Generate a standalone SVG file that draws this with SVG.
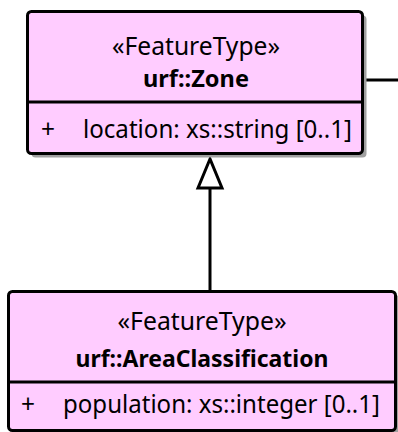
<svg xmlns="http://www.w3.org/2000/svg" width="398" height="432" viewBox="0 0 398 432">
<style>
.box{fill:#FFCCFF;stroke:#000;stroke-width:3}
.shadow{fill:#A0A0A0}
.div{stroke:#000;stroke-width:3}
.conn{stroke:#000;stroke-width:3;fill:none}
text{font-family:"Noto Sans","Open Sans",sans-serif;font-size:24.5px;fill:#000}
.c{text-anchor:middle}
.b{font-weight:bold;font-size:23px}
</style>
<rect width="398" height="432" fill="#fff"/>
<g id="connectors">
<line class="conn" x1="364" y1="80" x2="398" y2="80"/>
<line class="conn" x1="210" y1="188" x2="210" y2="291"/>
<polygon class="conn" points="210,159 198,188 222,188" fill="#fff" stroke-linejoin="miter"/>
</g>
<g id="zone">
<rect class="shadow" x="31.5" y="15.5" width="335" height="142" rx="4"/>
<rect class="box" x="27.5" y="11.5" width="335" height="142" rx="4"/>
<line class="div" x1="27.5" y1="102" x2="362.5" y2="102"/>
<text class="c" x="196" y="55" textLength="168" lengthAdjust="spacingAndGlyphs">«FeatureType»</text>
<text class="c b" x="196" y="87" textLength="106" lengthAdjust="spacingAndGlyphs">urf::Zone</text>
<text x="41" y="138">+</text>
<text x="83" y="138" textLength="269" lengthAdjust="spacingAndGlyphs">location: xs::string [0..1]</text>
</g>
<g id="areaClassification">
<rect class="shadow" x="13" y="295.5" width="387" height="150" rx="4"/>
<rect class="box" x="8.5" y="291.5" width="387" height="139" rx="4"/>
<line class="div" x1="8.5" y1="382" x2="395.5" y2="382"/>
<text class="c" x="202" y="330" textLength="169" lengthAdjust="spacingAndGlyphs">«FeatureType»</text>
<text class="c b" x="202" y="367" textLength="253" lengthAdjust="spacingAndGlyphs">urf::AreaClassification</text>
<text x="21" y="413">+</text>
<text x="63" y="413" textLength="317" lengthAdjust="spacingAndGlyphs">population: xs::integer [0..1]</text>
</g>
</svg>
